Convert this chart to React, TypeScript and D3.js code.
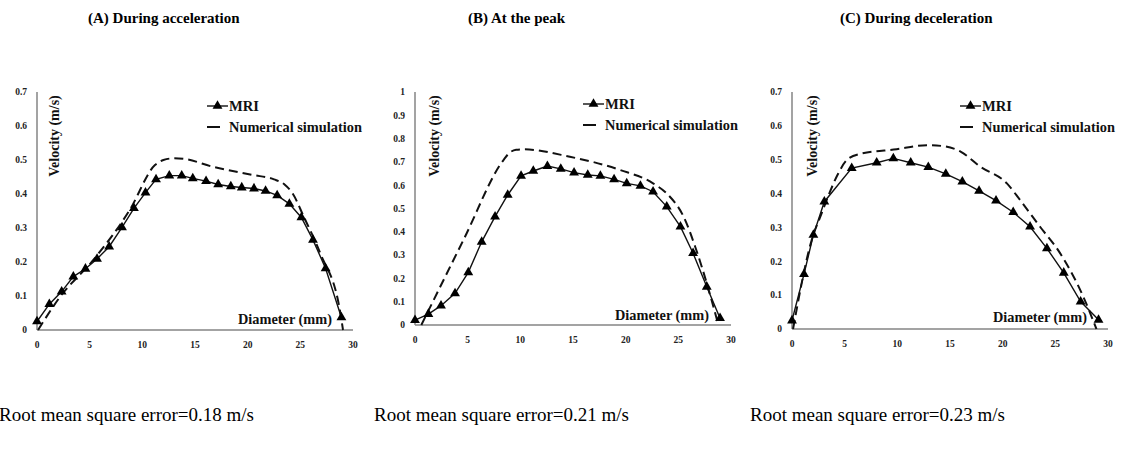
import React from "react";
import * as d3 from "d3";

// ---------- data ----------
const titles = ["(A) During acceleration", "(B) At the peak", "(C) During deceleration"];
const rmseLabels = [
  "Root mean square error=0.18 m/s",
  "Root mean square error=0.21 m/s",
  "Root mean square error=0.23 m/s",
];
const xTicks = [0, 5, 10, 15, 20, 25, 30];
const yTicksA = [0, 0.1, 0.2, 0.3, 0.4, 0.5, 0.6, 0.7];
const yTicksB = [0, 0.1, 0.2, 0.3, 0.4, 0.5, 0.6, 0.7, 0.8, 0.9, 1];
const yTicksC = [0, 0.1, 0.2, 0.3, 0.4, 0.5, 0.6, 0.7];
const legendLabels = ["MRI", "Numerical simulation"];
const xAxisTitle = "Diameter (mm)";
const yAxisTitle = "Velocity (m/s)";

// Panel A: during acceleration
const mriAX = [0, 1.17, 2.34, 3.45, 4.6, 5.7, 6.85, 8.07, 9.2, 10.3, 11.3, 12.56, 13.74, 14.79, 16.05, 17.2, 18.4, 19.44, 20.6, 21.7, 22.8, 23.96, 25.1, 26.2, 27.4, 28.9];
const mriAY = [0.025, 0.076, 0.113, 0.157, 0.18, 0.209, 0.245, 0.302, 0.358, 0.404, 0.443, 0.454, 0.454, 0.446, 0.438, 0.428, 0.422, 0.419, 0.416, 0.409, 0.396, 0.371, 0.331, 0.265, 0.181, 0.037];
const simAX = [0.1, 2.2, 5.35, 8.8, 11.2, 12.0, 13.0, 14.0, 16.7, 20.5, 22.5, 23.5, 24.3, 25.3, 26.9, 28.8, 29.05];
const simAY = [0.0, 0.098, 0.206, 0.353, 0.485, 0.5, 0.505, 0.503, 0.48, 0.456, 0.443, 0.428, 0.4, 0.335, 0.225, 0.05, 0.0];

// Panel B: at the peak
const mriBX = [0, 1.27, 2.47, 3.8, 5.06, 6.33, 7.6, 8.8, 10.07, 11.23, 12.57, 13.84, 15.1, 16.4, 17.6, 18.9, 20.1, 21.4, 22.6, 23.9, 25.2, 26.4, 27.7, 28.96];
const mriBY = [0.021, 0.047, 0.083, 0.136, 0.226, 0.357, 0.465, 0.558, 0.64, 0.661, 0.682, 0.67, 0.654, 0.644, 0.64, 0.625, 0.608, 0.597, 0.572, 0.508, 0.422, 0.308, 0.164, 0.029];
const simBX = [0.6, 4.6, 8.4, 9.0, 9.6, 10.3, 14.7, 19.5, 22.6, 24.0, 25.5, 26.6, 27.7, 28.8];
const simBY = [0.0, 0.365, 0.708, 0.74, 0.752, 0.754, 0.722, 0.665, 0.608, 0.56, 0.465, 0.336, 0.179, 0.0];

// Panel C: during deceleration
const mriCX = [0, 1.14, 2.03, 3.07, 5.67, 8.04, 9.62, 11.27, 12.94, 14.6, 16.17, 17.76, 19.37, 21.0, 22.6, 24.2, 25.8, 27.4, 29.1];
const mriCY = [0.025, 0.162, 0.278, 0.376, 0.475, 0.491, 0.504, 0.491, 0.478, 0.458, 0.435, 0.408, 0.379, 0.345, 0.302, 0.238, 0.166, 0.081, 0.027];
const simCX = [0.1, 1.87, 2.82, 3.6, 4.4, 5.2, 6.46, 9.94, 12.8, 14.4, 16.0, 17.85, 20.4, 21.65, 23.55, 25.45, 27.66, 28.9];
const simCY = [0.0, 0.263, 0.342, 0.405, 0.46, 0.499, 0.517, 0.531, 0.543, 0.54, 0.524, 0.48, 0.43, 0.381, 0.302, 0.224, 0.095, 0.0];

// ---------- layout ----------
const W = 1127;
const H = 449;
const FONT = "'Liberation Serif', 'Times New Roman', serif";

const zip = (xs: number[], ys: number[]) => xs.map((x, i) => ({ x, y: ys[i] }));

const panels = [
  {
    mri: zip(mriAX, mriAY), sim: zip(simAX, simAY), yTicks: yTicksA, yMax: 0.7,
    x0: 37, x1: 353, yb: 330, yt: 92,
    legX: 207, legY: 106, ytitleX: 54, xtitle: { x: 238, y: 324 },
    title: { x: 88, y: 23 }, rmse: { x: -1, y: 421 },
  },
  {
    mri: zip(mriBX, mriBY), sim: zip(simBX, simBY), yTicks: yTicksB, yMax: 1,
    x0: 415, x1: 731, yb: 325, yt: 92,
    legX: 583, legY: 104, ytitleX: 434, xtitle: { x: 615, y: 320 },
    title: { x: 468, y: 23 }, rmse: { x: 374, y: 421 },
  },
  {
    mri: zip(mriCX, mriCY), sim: zip(simCX, simCY), yTicks: yTicksC, yMax: 0.7,
    x0: 792, x1: 1108, yb: 329, yt: 92,
    legX: 960, legY: 106, ytitleX: 812, xtitle: { x: 993, y: 322 },
    title: { x: 840, y: 23 }, rmse: { x: 750, y: 421 },
  },
];

const tri = d3.symbol().type(d3.symbolTriangle).size(42)() as string;

function Panel({ p }: { p: (typeof panels)[number] }) {
  const x = d3.scaleLinear().domain([0, 30]).range([p.x0, p.x1]);
  const y = d3.scaleLinear().domain([0, p.yMax]).range([p.yb, p.yt]);
  const lineMri = d3.line<{ x: number; y: number }>().x((d) => x(d.x)).y((d) => y(d.y));
  const lineSim = d3
    .line<{ x: number; y: number }>()
    .x((d) => x(d.x))
    .y((d) => y(d.y))
    .curve(d3.curveMonotoneX);
  const fmt = (v: number) => (v === 0 ? "0" : v === 1 ? "1" : d3.format(".1f")(v));
  return (
    <g>
      {/* axes */}
      <line x1={x(0)} x2={x(30)} y1={y(0)} y2={y(0)} stroke="#858585" strokeWidth={1.5} />
      <line x1={x(0)} x2={x(0)} y1={y(0)} y2={y(p.yMax)} stroke="#858585" strokeWidth={1.5} />
      {p.yTicks.map((t) => (
        <text key={t} x={x(0) - 10} y={y(t)} dy="0.35em" textAnchor="end" fontSize={9.5}
          fontWeight="bold" fontFamily={FONT} fill="#222">{fmt(t)}</text>
      ))}
      {xTicks.map((t) => (
        <text key={t} x={x(t)} y={y(0) + 15} dy="0.35em" textAnchor="middle" fontSize={9.5}
          fontWeight="bold" fontFamily={FONT} fill="#222">{t}</text>
      ))}
      {/* axis titles */}
      <text transform={`translate(${p.ytitleX},136) rotate(-90)`} textAnchor="middle" dy="0.35em"
        fontSize={14} fontWeight="bold" fontFamily={FONT} fill="#111">{yAxisTitle}</text>
      <text x={p.xtitle.x} y={p.xtitle.y} fontSize={14} fontWeight="bold" fontFamily={FONT}
        fill="#111" textLength={94} lengthAdjust="spacingAndGlyphs">{xAxisTitle}</text>
      {/* series */}
      <path d={lineSim(p.sim) || ""} fill="none" stroke="#111" strokeWidth={2} strokeDasharray="9,5" />
      <path d={lineMri(p.mri) || ""} fill="none" stroke="#111" strokeWidth={1.4} />
      {p.mri.map((d, i) => (
        <path key={i} d={tri} transform={`translate(${x(d.x)},${y(d.y)})`} fill="#000" />
      ))}
      {/* legend */}
      <line x1={p.legX} x2={p.legX + 21} y1={p.legY} y2={p.legY} stroke="#111" strokeWidth={1.4} />
      <path d={tri} transform={`translate(${p.legX + 10.5},${p.legY})`} fill="#000" />
      <text x={p.legX + 22} y={p.legY} dy="0.35em" fontSize={14} fontWeight="bold" fontFamily={FONT}
        fill="#111" textLength={30} lengthAdjust="spacingAndGlyphs">{legendLabels[0]}</text>
      <line x1={p.legX} x2={p.legX + 13} y1={p.legY + 21} y2={p.legY + 21} stroke="#111" strokeWidth={2} />
      <text x={p.legX + 22} y={p.legY + 21} dy="0.35em" fontSize={14} fontWeight="bold" fontFamily={FONT}
        fill="#111" textLength={133} lengthAdjust="spacingAndGlyphs">{legendLabels[1]}</text>
    </g>
  );
}

export default function App() {
  return (
    <svg width={W} height={H} viewBox={`0 0 ${W} ${H}`}
      style={{ position: "absolute", left: 0, top: 0, background: "#fff" }}>
      <rect width={W} height={H} fill="#fff" />
      {panels.map((p, i) => (
        <g key={i}>
          <Panel p={p} />
          <text x={p.title.x} y={p.title.y} fontSize={15} fontWeight="bold" fontFamily={FONT}
            fill="#000">{titles[i]}</text>
          <text x={p.rmse.x} y={p.rmse.y} fontSize={19} fontFamily={FONT} fill="#000">{rmseLabels[i]}</text>
        </g>
      ))}
    </svg>
  );
}
